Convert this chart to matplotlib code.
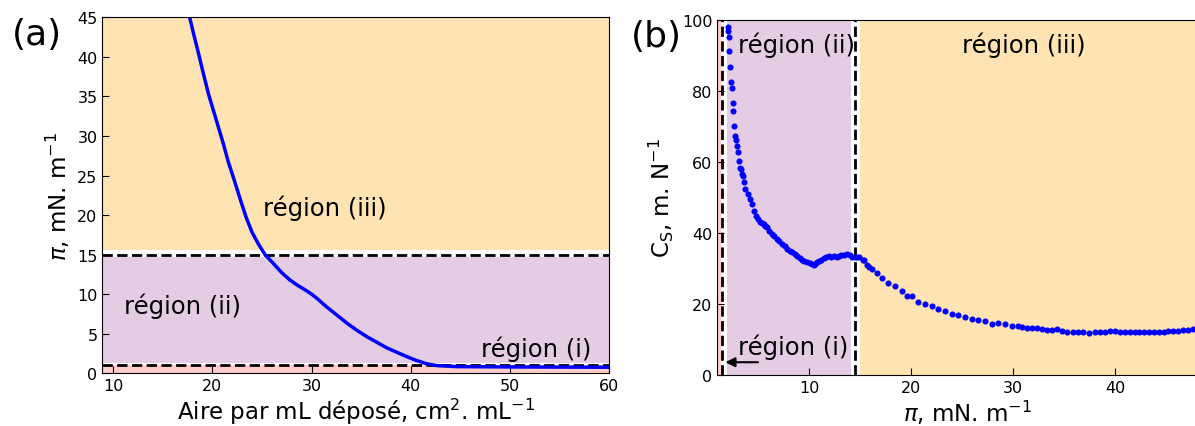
import matplotlib
matplotlib.use("Agg")
import matplotlib.pyplot as plt

# (a) isotherme pi vs aire
aire = [17.6, 18.1, 18.6, 19.1, 19.6, 20.1, 20.6, 21.1, 21.6, 22.2, 22.8,
        23.4, 24.0, 24.65, 25.3, 26.2, 27.0, 27.8, 28.6, 29.4, 30.0, 30.6,
        31.5, 32.6, 33.6, 34.6, 35.6, 36.6, 37.6, 38.6, 39.6, 40.6, 41.6,
        42.6, 44.6, 50.0, 55.0, 60.0]
pression = [45.5, 42.9, 40.4, 37.8, 35.3, 33.2, 31.1, 29.0, 26.7, 24.4, 22.0,
            19.7, 17.8, 16.3, 15.0, 13.8, 12.7, 11.8, 11.1, 10.5, 10.0, 9.4,
            8.4, 7.3, 6.3, 5.4, 4.6, 3.9, 3.2, 2.65, 2.1, 1.6, 1.2,
            0.97, 0.84, 0.8, 0.78, 0.76]

# (b) compressibilite Cs vs pi
pi_b = [2.03, 2.06, 2.19, 2.19, 2.29, 2.35, 2.42, 2.52, 2.58, 2.68, 2.77,
        2.84, 2.94, 3.04, 3.11, 3.26, 3.36, 3.43, 3.5, 3.6, 3.75, 3.99,
        4.25, 4.41, 4.64, 4.83, 5.0, 5.23, 5.4, 5.56, 5.7, 5.88, 6.1, 6.37,
        6.6, 6.86, 7.1, 7.35, 7.6, 7.84, 8.1, 8.33, 8.6, 8.82, 9.1, 9.31,
        9.55, 9.8, 10.05, 10.29, 10.45, 10.62, 10.8, 10.95, 11.2, 11.44,
        11.7, 11.93, 12.2, 12.42, 12.7, 12.91, 13.15, 13.4, 13.73, 14.05,
        14.19, 14.48, 14.68, 14.87, 15.26, 15.36, 15.66, 15.85, 16.15,
        16.64, 17.13, 17.78, 18.43, 19.09, 19.58, 20.07, 20.72, 21.37,
        22.03, 22.68, 23.33, 23.99, 24.64, 25.29, 25.95, 26.6, 27.25,
        27.91, 28.56, 29.22, 29.87, 30.52, 30.85, 31.34, 31.83, 32.32,
        32.81, 33.3, 33.79, 34.28, 34.77, 35.33, 35.85, 36.4, 36.89, 37.48,
        38.04, 38.53, 39.02, 39.51, 40.0, 40.49, 40.98, 41.47, 41.96,
        42.39, 42.84, 43.36, 43.82, 44.34, 44.8, 45.23, 45.72, 46.21,
        46.7, 47.19, 47.61]
cs = [98.0, 96.9, 95.0, 91.1, 86.6, 82.4, 80.8, 76.5, 74.4, 70.2, 67.4,
      66.1, 64.5, 62.9, 60.3, 58.4, 58.0, 56.6, 56.1, 54.2, 52.4, 50.9,
      49.5, 48.1, 46.2, 44.8, 44.0, 43.1, 42.8, 42.5, 42.0, 41.6, 40.5,
      39.7, 39.0, 38.3, 37.6, 36.9, 36.2, 35.5, 35.0, 34.5, 34.0, 33.6,
      33.0, 32.4, 32.0, 31.7, 31.4, 31.2, 31.0, 31.2, 31.8, 32.2, 32.5,
      32.8, 33.1, 33.4, 33.3, 33.4, 33.2, 33.4, 33.7, 33.9, 34.1, 33.8,
      33.1, 33.3, 33.1, 33.1, 32.4, 32.4, 31.0, 30.3, 29.8, 28.7, 27.2,
      25.9, 25.0, 23.7, 22.3, 22.1, 20.6, 20.0, 19.3, 18.6, 18.1, 17.2,
      16.9, 16.4, 15.9, 15.6, 15.3, 14.4, 14.6, 14.3, 13.7, 13.7, 13.4,
      13.1, 13.1, 13.1, 12.9, 12.8, 12.8, 12.9, 12.5, 12.2, 12.0, 12.0,
      12.0, 11.9, 12.0, 12.0, 12.2, 12.4, 12.4, 12.0, 12.0, 12.2, 12.2,
      12.0, 12.2, 12.2, 12.2, 12.2, 12.2, 12.5, 12.5, 12.5, 12.8, 12.8,
      12.9]

c_i = 'red'
c_ii = 'purple'
c_iii = 'orange'

plt.rcParams['font.family'] = 'DejaVu Sans'
plt.rcParams['mathtext.fontset'] = 'dejavusans'

fig = plt.figure(figsize=(11.95, 4.27), dpi=100)

# ---- panneau (a)
ax1 = fig.add_axes([0.0857, 0.1235, 0.4240, 0.8336])
ax1.axhspan(0, 1.0, color=c_i, alpha=0.2, lw=0)
ax1.axhspan(1.3, 14.7, color=c_ii, alpha=0.2, lw=0)
ax1.axhspan(15.6, 45, color=c_iii, alpha=0.3, lw=0)
ax1.axhline(1, color='k', ls='--', lw=2)
ax1.axhline(15, color='k', ls='--', lw=2)
ax1.plot(aire, pression, color='blue', lw=2.5)
ax1.text(31.3, 21.0, 'région (iii)', fontsize=17.5, ha='center', va='center')
ax1.text(17.0, 8.55, 'région (ii)', fontsize=17.5, ha='center', va='center')
ax1.text(52.6, 3.1, 'région (i)', fontsize=17.5, ha='center', va='center')
ax1.set_xlim(8.9, 60)
ax1.set_ylim(0, 45)
ax1.set_xticks([10, 20, 30, 40, 50, 60])
ax1.set_yticks(range(0, 46, 5))
ax1.set_xlabel('Aire par mL déposé, cm$^2$. mL$^{-1}$', fontsize=16.5, labelpad=2)
ax1.set_ylabel('$\\pi$, mN. m$^{-1}$', fontsize=16.5, labelpad=4)
ax1.tick_params(direction='in', labelsize=11.5, length=5)

# ---- panneau (b)
ax2 = fig.add_axes([0.6002, 0.1194, 0.4182, 0.8321])
ax2.axvspan(0, 1.35, color=c_i, alpha=0.2, lw=0)
ax2.axvspan(1.95, 14.1, color=c_ii, alpha=0.2, lw=0)
ax2.axvspan(15.0, 50, color=c_iii, alpha=0.3, lw=0)
ax2.axvline(1.5, color='k', ls='--', lw=2)
ax2.axvline(14.5, color='k', ls='--', lw=2)
ax2.plot(pi_b, cs, 'o', color='blue', ms=4.4, mew=0)
ax2.text(8.8, 93.2, 'région (ii)', fontsize=17.5, ha='center', va='center')
ax2.text(31.1, 93.2, 'région (iii)', fontsize=17.5, ha='center', va='center')
ax2.text(8.46, 8.0, 'région (i)', fontsize=17.5, ha='center', va='center')
ax2.annotate('', xy=(1.8, 3.6), xytext=(5.0, 3.6),
             arrowprops=dict(arrowstyle='-|>', color='k', lw=1.5,
                             mutation_scale=14, shrinkA=0, shrinkB=0))
ax2.set_xlim(1.0, 50)
ax2.set_ylim(0, 100)
ax2.set_xticks([10, 20, 30, 40])
ax2.set_yticks(range(0, 101, 20))
ax2.set_xlabel('$\\pi$, mN. m$^{-1}$', fontsize=16.5, labelpad=2)
ax2.set_ylabel('C$_\\mathrm{S}$, m. N$^{-1}$', fontsize=16.5, labelpad=4)
ax2.tick_params(direction='in', labelsize=11.5, length=5)

fig.text(0.031, 0.918, '(a)', fontsize=26, ha='center', va='center')
fig.text(0.5495, 0.913, '(b)', fontsize=26, ha='center', va='center')

fig.savefig('out.png', dpi=100)
